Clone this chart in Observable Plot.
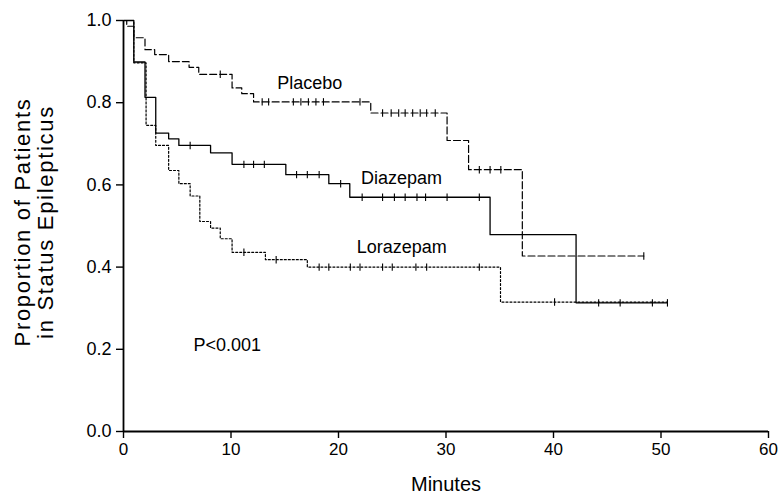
<!DOCTYPE html>
<html>
<head>
<meta charset="utf-8">
<script src="https://cdn.jsdelivr.net/npm/d3@7"></script>
<script src="https://cdn.jsdelivr.net/npm/@observablehq/plot@0.6"></script>
<style>
  html, body { margin: 0; padding: 0; background: #fff; }
</style>
</head>
<body>
<div id="chart"></div>
<script>
// ---- Data (minutes, proportion) ----
const placeboTimes  = [0, 0.3, 0.96, 2.0, 2.9, 4.2, 6.1, 7.0, 10.1, 11.0, 12.1, 23.0, 30.1, 32.1, 37.1, 48.4];
const placeboProp   = [1.0, 0.986, 0.958, 0.929, 0.917, 0.900, 0.886, 0.869, 0.836, 0.822, 0.802, 0.775, 0.708, 0.637, 0.427, 0.427];
const placeboCensor = [9.0, 12.9, 13.5, 15.8, 16.5, 17.2, 17.9, 18.6, 22.0, 24.1, 24.9, 25.6, 26.2, 26.9, 27.6, 28.2, 29.0, 33.1, 34.1, 35.1, 48.4];

const diazepamTimes  = [0, 0.96, 2.0, 3.0, 4.2, 5.15, 8.1, 10.1, 15.1, 19.1, 21.05, 34.1, 42.1, 50.6];
const diazepamProp   = [1.0, 0.899, 0.813, 0.726, 0.712, 0.696, 0.678, 0.650, 0.625, 0.603, 0.570, 0.479, 0.313, 0.313];
const diazepamCensor = [6.2, 11.2, 12.1, 13.1, 16.1, 17.1, 18.2, 20.2, 22.2, 24.1, 25.2, 26.2, 27.3, 28.1, 30.1, 33.1, 44.2, 46.2, 49.2, 50.6];

const lorazepamTimes  = [0, 0.96, 2.1, 3.0, 4.2, 5.15, 6.2, 7.1, 8.1, 9.0, 10.1, 13.2, 17.1, 35.07, 50.6];
const lorazepamProp   = [1.0, 0.897, 0.745, 0.696, 0.635, 0.603, 0.573, 0.511, 0.495, 0.469, 0.436, 0.418, 0.400, 0.315, 0.315];
const lorazepamCensor = [11.2, 14.2, 18.2, 19.1, 21.1, 22.0, 24.1, 25.0, 27.2, 28.2, 33.1, 40.1];

const seriesNames = ["Placebo", "Diazepam", "Lorazepam"];
const labelX = [14.3, 22.1, 21.7];
const labelY = [0.847, 0.616, 0.448];
const pText = "P<0.001";
const pX = 6.5, pY = 0.209;

const xTicks = [0, 10, 20, 30, 40, 50, 60];
const yTicks = [0, 0.2, 0.4, 0.6, 0.8, 1.0];

// ---- Build tables ----
function steps(times, props, name) {
  return times.map((t, i) => ({series: name, t, p: props[i]}));
}
function censorPoints(times, props, cens, name) {
  return cens.map(c => {
    let p = props[0];
    for (let i = 0; i < times.length; i++) if (times[i] <= c) p = props[i];
    return {series: name, t: c, p};
  });
}
const placebo = steps(placeboTimes, placeboProp, "Placebo");
const diazepam = steps(diazepamTimes, diazepamProp, "Diazepam");
const lorazepam = steps(lorazepamTimes, lorazepamProp, "Lorazepam");
const censors = [
  ...censorPoints(placeboTimes, placeboProp, placeboCensor, "Placebo"),
  ...censorPoints(diazepamTimes, diazepamProp, diazepamCensor, "Diazepam"),
  ...censorPoints(lorazepamTimes, lorazepamProp, lorazepamCensor, "Lorazepam")
];
const labels = seriesNames.map((n, i) => ({n, x: labelX[i], y: labelY[i]}));

const vtick = {
  draw(context, size) {
    const h = Math.sqrt(size);
    context.moveTo(0, -h);
    context.lineTo(0, h);
  }
};

const chart = Plot.plot({
  width: 782,
  height: 501,
  marginLeft: 123,
  marginRight: 14,
  marginTop: 20,
  marginBottom: 70,
  style: {fontFamily: "'Liberation Sans', Arial, Helvetica, sans-serif", fontSize: "17px", color: "#000", background: "#fff"},
  x: {domain: [0, 60]},
  y: {domain: [0, 1]},
  marks: [
    Plot.axisX({ticks: xTicks, tickSize: 7, tickPadding: 4, label: null, stroke: "#000", strokeWidth: 1.4}),
    Plot.axisY({ticks: yTicks, tickSize: 7, tickPadding: 5, tickFormat: d3.format(".1f"), label: null, stroke: "#000", strokeWidth: 1.4, fontSize: 18}),
    Plot.ruleX([0], {stroke: "#000", strokeWidth: 1.8}),
    Plot.ruleY([0], {stroke: "#000", strokeWidth: 1.8}),
    Plot.line(placebo, {x: "t", y: "p", curve: "step-after", stroke: "#000", strokeWidth: 1.2, strokeDasharray: "7,3"}),
    Plot.line(diazepam, {x: "t", y: "p", curve: "step-after", stroke: "#000", strokeWidth: 1.3}),
    Plot.line(lorazepam, {x: "t", y: "p", curve: "step-after", stroke: "#000", strokeWidth: 1.2, strokeDasharray: "2,2"}),
    Plot.dot(censors, {x: "t", y: "p", symbol: vtick, r: 2.1, stroke: "#000", strokeWidth: 1.1, fill: "none"}),
    Plot.text(labels, {x: "x", y: "y", text: "n", textAnchor: "start", fontSize: 18, fill: "#000"}),
    Plot.text([pText], {x: () => pX, y: () => pY, textAnchor: "start", fontSize: 18, fill: "#000"}),
    Plot.text(["Minutes"], {frameAnchor: "bottom", dy: 59, fontSize: 20, fill: "#000"}),
    Plot.text(["Proportion of Patients\nin Status Epilepticus"], {frameAnchor: "left", textAnchor: "middle", dx: -89, dy: -4, rotate: -90, fontSize: 22, lineHeight: 1.03, fill: "#000"})
  ]
});
// letter spacing for the y-axis title (styling only)
d3.select(chart).selectAll("text")
  .filter(function() { return this.textContent.startsWith("Proportion"); })
  .attr("letter-spacing", "1.7px");
document.getElementById("chart").appendChild(chart);
</script>
</body>
</html>
